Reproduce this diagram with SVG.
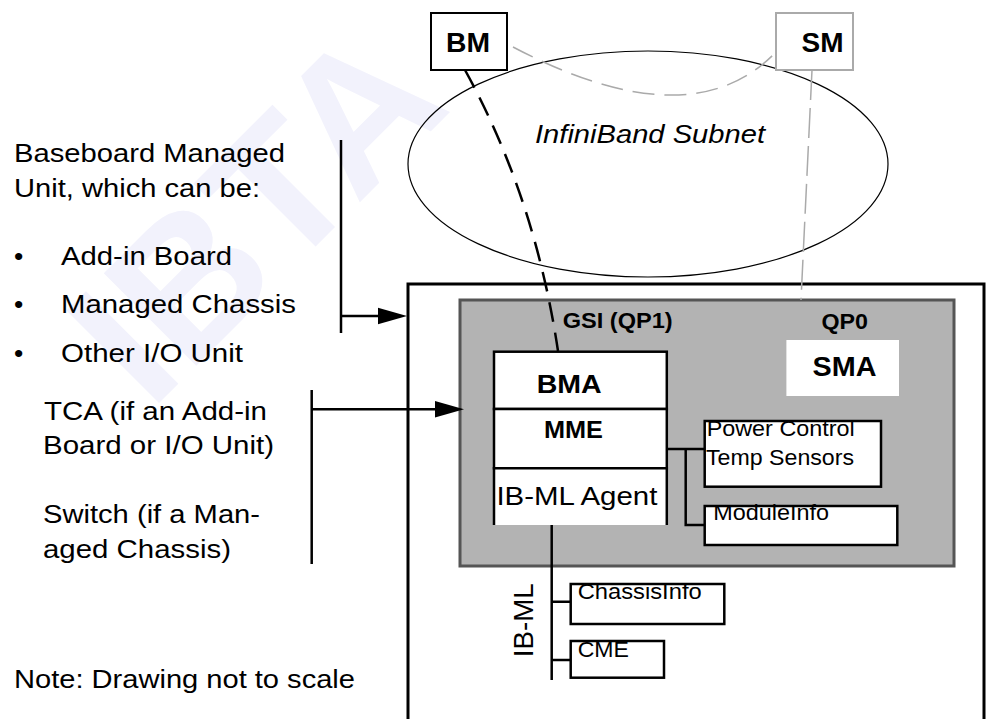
<svg xmlns="http://www.w3.org/2000/svg" width="987" height="719" viewBox="0 0 987 719">
<style>
  text { font-family: "Liberation Sans", Arial, sans-serif; fill: #000; }
  .lt { font-size: 26.5px; }
  .sm { font-size: 21.5px; }
  .b { font-weight: bold; }
  .box { fill: #fff; stroke: #000; stroke-width: 2.5; }
  .ln { fill: none; stroke: #000; stroke-width: 2.5; }
  .gd { fill: none; stroke: #aaa; stroke-width: 1.5; }
  .wm { font-family: "Liberation Sans", Arial, sans-serif; font-weight: bold; font-size: 190px; fill: #f2f2fc; }
</style>
<rect x="0" y="0" width="987" height="719" fill="#fff"/>
<text class="wm" transform="translate(150,412) rotate(-45)">IBTA</text>

<g id="subnet">
  <ellipse cx="648" cy="164" rx="240" ry="113" fill="none" stroke="#000" stroke-width="1.2"/>
  <text x="535" y="142.7" font-size="26px" font-style="italic" textLength="230" lengthAdjust="spacingAndGlyphs">InfiniBand Subnet</text>
</g>

<g id="bm">
  <rect x="431" y="13" width="76" height="57" fill="#fff" stroke="#000" stroke-width="2"/>
  <text class="b" x="446" y="51.7" font-size="27px" textLength="44" lengthAdjust="spacingAndGlyphs">BM</text>
</g>

<g id="sm">
  <rect x="776" y="13" width="77" height="57" fill="#fff" stroke="#aaa" stroke-width="2"/>
  <text class="b" x="801.5" y="51.7" font-size="27px" textLength="42" lengthAdjust="spacingAndGlyphs">SM</text>
</g>

<g id="unit">
  <path d="M408,719 V284 H984 V719" fill="none" stroke="#000" stroke-width="3"/>
</g>

<g id="tca">
  <rect x="460" y="300" width="494" height="266" fill="#b3b3b3" stroke="#555" stroke-width="3"/>
  <text class="b" x="562.7" y="328.3" font-size="21.7px" textLength="110" lengthAdjust="spacingAndGlyphs">GSI (QP1)</text>
  <text class="b" x="821.4" y="329" font-size="21.7px" textLength="46.5" lengthAdjust="spacingAndGlyphs">QP0</text>
</g>

<g id="sma">
  <rect x="786.4" y="340" width="112.6" height="56" fill="#fff"/>
  <text class="b" x="812.5" y="376" font-size="27px" textLength="64" lengthAdjust="spacingAndGlyphs">SMA</text>
</g>

<g id="bma">
  <rect class="box" x="494" y="351.7" width="172.8" height="57.3"/>
  <text class="b" x="536.7" y="392.7" font-size="26.5px" textLength="65" lengthAdjust="spacingAndGlyphs">BMA</text>
</g>

<g id="mme">
  <rect class="box" x="494" y="409" width="172.8" height="59.3"/>
  <text class="b" x="544" y="438.3" font-size="24.5px" textLength="59" lengthAdjust="spacingAndGlyphs">MME</text>
</g>

<g id="ibml-agent">
  <rect x="494" y="468.3" width="172.8" height="56.7" fill="#fff"/>
  <path class="ln" d="M494,525 V468.3 H666.8 V525"/>
  <text class="lt" x="496.4" y="505" textLength="161" lengthAdjust="spacingAndGlyphs">IB-ML Agent</text>
</g>

<g id="power">
  <rect class="box" x="704.7" y="421" width="176.3" height="65.7"/>
  <text class="sm" x="706.7" y="436" textLength="148" lengthAdjust="spacingAndGlyphs">Power Control</text>
  <text class="sm" x="706" y="465" textLength="148" lengthAdjust="spacingAndGlyphs">Temp Sensors</text>
</g>

<g id="moduleinfo">
  <rect class="box" x="704.7" y="506" width="192.6" height="39"/>
  <text class="sm" x="713.3" y="520" textLength="115.7" lengthAdjust="spacingAndGlyphs">ModuleInfo</text>
</g>

<g id="chassisinfo">
  <rect class="box" x="570.7" y="584" width="153.6" height="40"/>
  <text class="sm" x="577.7" y="599.3" textLength="124" lengthAdjust="spacingAndGlyphs">ChassisInfo</text>
</g>

<g id="cme">
  <rect class="box" x="570.7" y="641" width="93.3" height="36.7"/>
  <text class="sm" x="577.7" y="656.7" textLength="51.3" lengthAdjust="spacingAndGlyphs">CME</text>
</g>

<g id="ibml-label">
  <text transform="translate(533,620.3) rotate(-90)" font-size="28px" text-anchor="middle" textLength="74" lengthAdjust="spacingAndGlyphs">IB-ML</text>
</g>

<g id="left-text">
  <text class="lt" x="14" y="162" textLength="271" lengthAdjust="spacingAndGlyphs">Baseboard Managed</text>
  <text class="lt" x="14" y="197" textLength="246" lengthAdjust="spacingAndGlyphs">Unit, which can be:</text>
  <text class="lt" x="14" y="265">•</text>
  <text class="lt" x="14" y="313.3">•</text>
  <text class="lt" x="14" y="361.7">•</text>
  <text class="lt" x="61" y="265" textLength="171" lengthAdjust="spacingAndGlyphs">Add-in Board</text>
  <text class="lt" x="61" y="313.3" textLength="235" lengthAdjust="spacingAndGlyphs">Managed Chassis</text>
  <text class="lt" x="61" y="361.7" textLength="182" lengthAdjust="spacingAndGlyphs">Other I/O Unit</text>
  <text class="lt" x="44" y="420" textLength="223" lengthAdjust="spacingAndGlyphs">TCA (if an Add-in</text>
  <text class="lt" x="43" y="454" textLength="231" lengthAdjust="spacingAndGlyphs">Board or I/O Unit)</text>
  <text class="lt" x="43" y="523.3" textLength="217" lengthAdjust="spacingAndGlyphs">Switch (if a Man-</text>
  <text class="lt" x="43" y="558.3" textLength="188" lengthAdjust="spacingAndGlyphs">aged Chassis)</text>
  <text class="lt" x="14" y="688" textLength="341" lengthAdjust="spacingAndGlyphs">Note: Drawing not to scale</text>
</g>

<g id="connectors">
  <path d="M465,70 Q535,197 558,351" fill="none" stroke="#000" stroke-width="2.5" stroke-dasharray="20 11"/>
  <path class="gd" d="M513,47 Q690,140 775,53" stroke-dasharray="22 10"/>
  <path class="gd" d="M812,70 L801,300" stroke-dasharray="30 8"/>
  <path class="ln" d="M666.8,449 H704.7 M685.7,449 V525 H704.7"/>
  <path class="ln" d="M551.7,525 V680 M551.7,601.7 H570.7 M551.7,660 H570.7"/>
  <path class="ln" d="M341,140 V333 M341,316 H380"/>
  <polygon points="378,307.7 407,316 378,324.3" fill="#000"/>
  <path class="ln" d="M311.7,390 V564 M311.7,409.3 H437"/>
  <polygon points="435,401 464,409.3 435,417.6" fill="#000"/>
</g>
</svg>
